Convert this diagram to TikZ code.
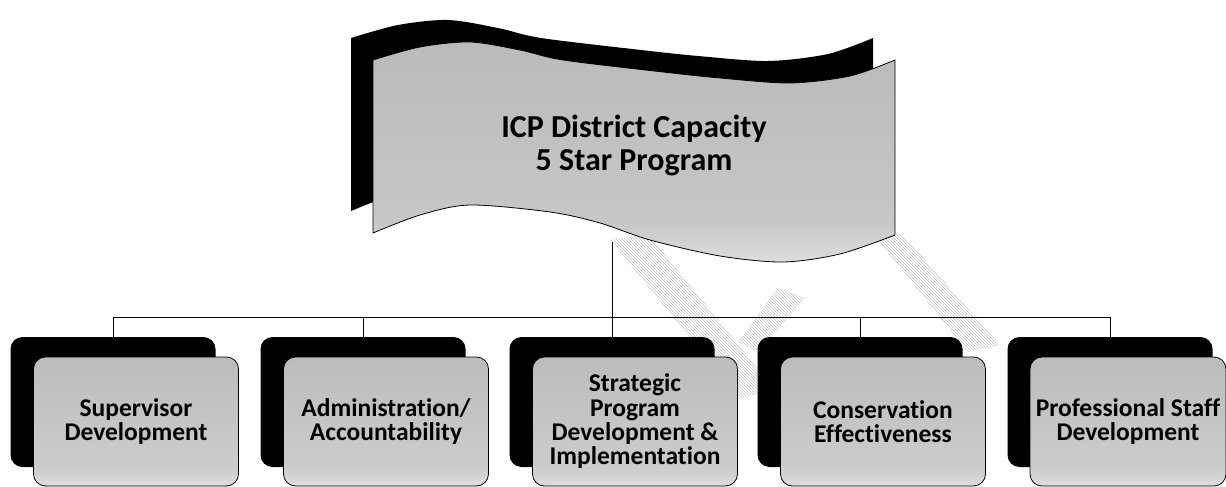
\documentclass[tikz,border=0pt]{standalone}
\usepackage{fontspec}
\setmainfont{Carlito}[Ligatures=NoCommon]
\usetikzlibrary{patterns}
\pgfdeclareverticalshading{boxfade}{100bp}{color(0bp)=(white); color(12bp)=(white); color(32bp)=(black!20); color(100bp)=(black!30)}
\pgfdeclareverticalshading{bannerfade}{100bp}{color(0bp)=(white); color(12bp)=(white); color(34bp)=(black!22); color(100bp)=(black!30)}
\begin{document}
\begin{tikzpicture}[x=1pt,y=-1pt,
 shadowbox/.style={fill=black, rounded corners=12pt, minimum width=205pt, minimum height=130pt, inner sep=0pt},
 frontbox/.style={draw=black, line width=0.8pt, shade, shading=boxfade, rounded corners=12pt, minimum width=205pt, minimum height=129pt, inner sep=0pt, align=center, font=\bfseries\fontsize{25.5}{24.3}\selectfont},
 conn/.style={draw=black, line width=0.8pt},
 hatchband/.style={pattern=north west lines, pattern color=black!25}]
\useasboundingbox (0,0) rectangle (1226,487);

% faint diagonal hatched bands
\path[hatchband] (610,240) -- (648,234) -- (775,390) -- (740,398) -- cycle;
\path[hatchband] (778,288) -- (805,298) -- (758,352) -- (738,342) -- cycle;
\path[hatchband] (875,236) -- (902,234) -- (1000,345) -- (968,352) -- cycle;

% banner shadow
\begin{scope}[shift={(-22,-22)}]
\path[fill=black] plot[smooth] coordinates {(373,60) (420,47) (470,42) (520,50) (563,60) (663,72) (720,78) (790,83) (850,76) (895,60)} -- plot[smooth] coordinates {(895,235) (840,254) (783,262) (720,256) (650,240) (600,223) (550,212) (470,205) (420,215) (373,233)} -- cycle;
\end{scope}
% banner front
\path[draw=black, line width=0.8pt, shade, shading=bannerfade] plot[smooth] coordinates {(373,60) (420,47) (470,42) (520,50) (563,60) (663,72) (720,78) (790,83) (850,76) (895,60)} -- plot[smooth] coordinates {(895,235) (840,254) (783,262) (720,256) (650,240) (600,223) (550,212) (470,205) (420,215) (373,233)} -- cycle;
\node[font=\bfseries\fontsize{32}{33}\selectfont, align=center] (title) at (634,145) {ICP District Capacity\\5 Star Program};

% connectors
\coordinate (bannerbottom) at (612,242);
\coordinate (hub) at (612,317);

% boxes
\node[shadowbox] (s1) at (113,402) {};
\node[shadowbox] (s2) at (363,402) {};
\node[shadowbox] (s3) at (612,402) {};
\node[shadowbox] (s4) at (860,402) {};
\node[shadowbox] (s5) at (1110,402) {};

\draw[conn] (bannerbottom) -- (hub);
\foreach \i in {1,...,5} {\draw[conn] (hub) -| (s\i.north);}

\node[frontbox] (b1) at (136,421.5) {Supervisor\\Development};
\node[frontbox] (b2) at (386,421.5) {Administration/\\Accountability};
\node[frontbox] (b3) at (635,421.5) {Strategic\\Program\\Development \&\\Implementation};
\node[frontbox] (b4) at (883,421.5) {Conservation\\Effectiveness};
\node[frontbox, minimum width=196pt] (b5) at (1128,421.5) {Professional Staff\\Development};
\end{tikzpicture}
\end{document}
